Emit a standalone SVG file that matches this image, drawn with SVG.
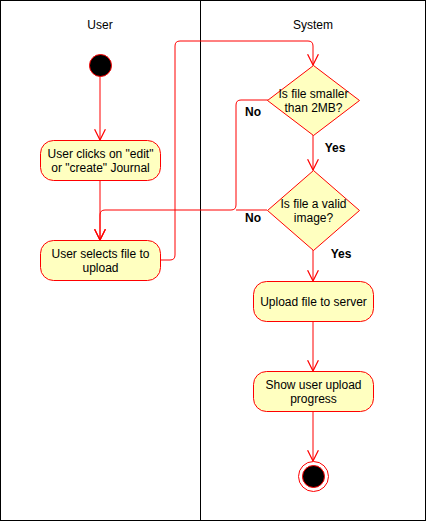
<svg xmlns="http://www.w3.org/2000/svg" width="426" height="521" viewBox="0 0 426 521">
<defs>
<marker id="open" markerUnits="userSpaceOnUse" markerWidth="12" markerHeight="12" refX="9" refY="5" orient="auto" viewBox="0 0 10 10">
<path d="M0,0.5 L9,5 L0,9.5" fill="none" stroke="#FF0000" stroke-width="1"/>
</marker>
</defs>
<style>
text{font-family:"Liberation Sans",Arial,sans-serif;font-size:12px;fill:#000;text-anchor:middle}
.lbl{font-weight:bold}
.act{fill:#FFFFC0;stroke:#FF0000;stroke-width:1}
.edge{fill:none;stroke:#FF0000;stroke-width:1}
.arr{marker-end:url(#open)}
</style>
<rect x="0" y="0" width="426" height="521" fill="#fff"/>
<g id="lanes">
<rect x="0.5" y="0.5" width="425" height="520" fill="none" stroke="#000" stroke-width="1"/>
<line x1="200.5" y1="0.5" x2="200.5" y2="520.5" stroke="#000" stroke-width="1"/>
<text x="100" y="29">User</text>
<text x="313" y="29">System</text>
</g>
<g id="connectors">
<path class="edge arr" d="M100,76 L100,140"/>
<path class="edge arr" d="M100,180 L100,240"/>
<path class="edge arr" d="M160,260 L170,260 Q175,260 175,255 L175,46 Q175,41 180,41 L308,41 Q313,41 313,46 L313,65"/>
<path class="edge arr" d="M268,100 L241,100 Q236,100 236,105 L236,205 Q236,210 231,210 L105,210 Q100,210 100,215 L100,240"/>
<path class="edge" d="M267,210 L236,210"/>
<path class="edge arr" d="M313,135 L313,170"/>
<path class="edge arr" d="M313,250 L313,281"/>
<path class="edge arr" d="M313,321 L313,371"/>
<path class="edge arr" d="M313,411 L313,461"/>
<text class="lbl" x="253" y="116">No</text>
<text class="lbl" x="335" y="152">Yes</text>
<text class="lbl" x="253" y="222">No</text>
<text class="lbl" x="341" y="258">Yes</text>
</g>
<g id="start">
<circle cx="100.5" cy="65.5" r="11" fill="#000" stroke="#FF0000" stroke-width="1"/>
</g>
<g id="clickEdit">
<rect class="act" x="40.5" y="140.5" width="120" height="40" rx="13" ry="13"/>
<text x="100.5" y="157.5">User clicks on "edit"</text>
<text x="100.5" y="171.5">or "create" Journal</text>
</g>
<g id="selectFile">
<rect class="act" x="40.5" y="240.5" width="120" height="40" rx="13" ry="13"/>
<text x="100.5" y="257.5">User selects file to</text>
<text x="100.5" y="271.5">upload</text>
</g>
<g id="sizeCheck">
<path class="act" d="M313.5,65.5 L359.5,100.5 L313.5,135.5 L267.5,100.5 Z"/>
<text x="313.5" y="98">Is file smaller</text>
<text x="313.5" y="112">than 2MB?</text>
</g>
<g id="imageCheck">
<path class="act" d="M313.5,170.5 L359.5,210.5 L313.5,250.5 L267.5,210.5 Z"/>
<text x="313.5" y="208">Is file a valid</text>
<text x="313.5" y="222">image?</text>
</g>
<g id="upload">
<rect class="act" x="253.5" y="281.5" width="120" height="40" rx="13" ry="13"/>
<text x="313.5" y="306">Upload file to server</text>
</g>
<g id="progress">
<rect class="act" x="253.5" y="371.5" width="120" height="40" rx="13" ry="13"/>
<text x="313.5" y="389">Show user upload</text>
<text x="313.5" y="403">progress</text>
</g>
<g id="end">
<circle cx="313.5" cy="476.5" r="15" fill="#fff" stroke="#FF0000" stroke-width="1"/>
<circle cx="313.5" cy="476.5" r="11" fill="#000" stroke="#FF0000" stroke-width="1"/>
</g>
</svg>
